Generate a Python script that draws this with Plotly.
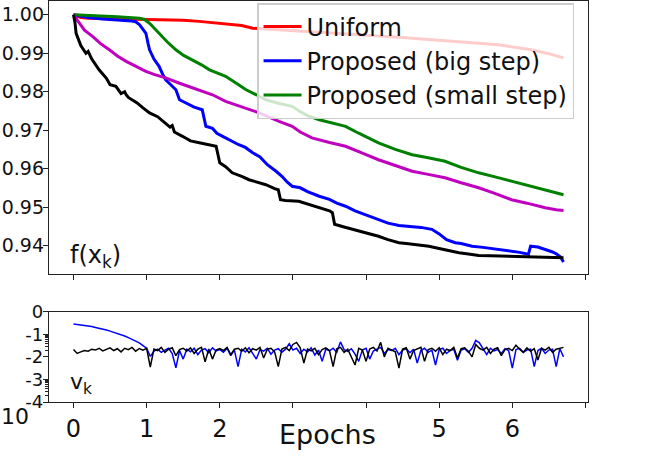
import plotly.graph_objects as go

# ---------------- top panel: f(x_k) ----------------
uniform_ep = [0, 0.1, 0.2, 0.5, 1.0, 1.5, 1.72, 2.0, 2.17, 2.3, 2.45, 2.7, 3.08, 3.5, 3.99, 4.5, 4.9, 5.4, 5.81, 6.26, 6.5, 6.7]
uniform_f = [1.0, 0.9993, 0.9991, 0.999, 0.9989, 0.9986, 0.9983, 0.9978, 0.9974, 0.9972, 0.9965, 0.9962, 0.9959, 0.9954, 0.9948, 0.9941, 0.9935, 0.9928, 0.9922, 0.9909, 0.9899, 0.9888]

big_ep = [0, 0.2, 0.4, 0.6, 0.8, 0.85, 0.9, 0.95, 0.99, 1.02, 1.04, 1.1, 1.17, 1.22, 1.26, 1.33, 1.40, 1.45, 1.55, 1.65, 1.76,
          1.81, 1.9, 1.96, 2.04, 2.15, 2.26, 2.35, 2.45, 2.55, 2.65, 2.77, 2.85, 2.92, 2.99, 3.1, 3.2, 3.36, 3.5, 3.6, 3.72,
          3.85, 4.0, 4.17, 4.3, 4.45, 4.63, 4.75, 4.9, 5.0, 5.1, 5.22, 5.3, 5.45, 5.6, 5.8, 5.99, 6.1, 6.22, 6.25, 6.35,
          6.45, 6.55, 6.61, 6.66, 6.7]
big_f = [1.0, 0.9993, 0.9989, 0.9987, 0.9984, 0.9982, 0.9975, 0.9962, 0.9952, 0.9925, 0.9909, 0.9885, 0.9866, 0.9845, 0.9831, 0.9818, 0.9805, 0.9779, 0.977, 0.976, 0.9753,
         0.971, 0.9705, 0.9692, 0.9684, 0.9672, 0.9662, 0.9655, 0.9641, 0.963, 0.961, 0.9593, 0.958, 0.9565, 0.9554, 0.955, 0.954, 0.9528, 0.952, 0.951, 0.9502,
         0.949, 0.948, 0.9468, 0.9458, 0.9452, 0.945, 0.9447, 0.9442, 0.943, 0.9415, 0.9407, 0.9405, 0.9398, 0.9395, 0.939, 0.9385, 0.9382, 0.9377, 0.9398, 0.9396,
         0.939, 0.9383, 0.9377, 0.937, 0.9357]

small_ep = [0, 0.3, 0.6, 0.9, 0.97, 1.04, 1.1, 1.17, 1.28, 1.4, 1.5, 1.63, 1.75, 1.86, 2.0, 2.08, 2.2, 2.36, 2.5, 2.63, 2.8,
            2.99, 3.1, 3.2, 3.36, 3.5, 3.72, 3.9, 4.05, 4.17, 4.4, 4.63, 4.85, 5.08, 5.3, 5.54, 5.75, 5.99, 6.2, 6.45, 6.6, 6.7]
small_f = [1.0, 0.9998, 0.9995, 0.9991, 0.9988, 0.9978, 0.9965, 0.9952, 0.993, 0.9909, 0.9895, 0.9883, 0.987, 0.9857, 0.9846, 0.984, 0.9825, 0.9805, 0.9792, 0.9779, 0.977,
           0.9762, 0.9748, 0.9738, 0.9727, 0.972, 0.971, 0.9692, 0.9678, 0.9667, 0.965, 0.9636, 0.9628, 0.9619, 0.9603, 0.9589, 0.9579, 0.9567, 0.9557, 0.9545, 0.9538, 0.9532]

magenta_ep = [0, 0.08, 0.15, 0.26, 0.37, 0.49, 0.6, 0.72, 0.85, 0.99, 1.1, 1.26, 1.45, 1.63, 1.78, 1.90, 2.08, 2.3, 2.54, 2.81,
              2.99, 3.1, 3.26, 3.5, 3.72, 3.95, 4.17, 4.4, 4.63, 4.85, 5.08, 5.3, 5.54, 5.75, 5.99, 6.2, 6.45, 6.6, 6.7]
magenta_f = [1.0, 0.9978, 0.996, 0.9944, 0.9925, 0.9909, 0.9893, 0.9879, 0.9866, 0.9853, 0.9845, 0.9836, 0.9822, 0.981, 0.98, 0.9792, 0.9775, 0.976, 0.9745, 0.9723,
             0.971, 0.9695, 0.968, 0.9668, 0.9658, 0.964, 0.9623, 0.9608, 0.9593, 0.9585, 0.9576, 0.9563, 0.955, 0.9536, 0.9519, 0.951, 0.9498, 0.9493, 0.9491]

black_ep = [0, 0.02, 0.036, 0.1, 0.17, 0.2, 0.25, 0.35, 0.45, 0.5, 0.58, 0.65, 0.7, 0.72, 0.75, 0.87, 0.95, 1.04, 1.15, 1.26,
            1.32, 1.35, 1.38, 1.49, 1.6, 1.72, 1.95, 2.0, 2.08, 2.17, 2.3, 2.4, 2.5, 2.63, 2.75, 2.8, 2.83, 2.9, 3.08, 3.2,
            3.31, 3.4, 3.5, 3.54, 3.57, 3.7, 3.8, 3.95, 4.05, 4.17, 4.3, 4.45, 4.55, 4.7, 4.86, 5.0, 5.1, 5.27, 5.4, 5.54,
            5.7, 5.99, 6.3, 6.5, 6.7]
black_f = [1.0, 0.998, 0.9952, 0.992, 0.990, 0.9905, 0.9885, 0.9857, 0.9835, 0.9818, 0.9814, 0.9795, 0.98, 0.9792, 0.9785, 0.9771, 0.9758, 0.9745, 0.9735, 0.9719,
           0.9708, 0.9712, 0.9695, 0.9684, 0.9672, 0.9667, 0.9658, 0.9615, 0.9605, 0.9589, 0.958, 0.9571, 0.9565, 0.9558, 0.9548, 0.9545, 0.9519, 0.9517, 0.9515, 0.9508,
           0.9502, 0.9495, 0.949, 0.9485, 0.9455, 0.9448, 0.9443, 0.9437, 0.9432, 0.9424, 0.9415, 0.9407, 0.9405, 0.9401, 0.9398, 0.9392, 0.9388, 0.9381, 0.9378, 0.9374,
           0.9373, 0.9372, 0.9371, 0.9369, 0.9368]

# ---------------- bottom panel: log10(v_k), sampled every 0.05 epoch ----------------
vk_blue_exp = [
    -0.54, -0.56, -0.58, -0.60, -0.63, -0.66, -0.70, -0.73, -0.77, -0.81,
    -0.86, -0.91, -0.96, -1.02, -1.08, -1.15, -1.22, -1.30, -1.38, -1.50,
    -1.62, -1.98, -1.75, -1.66, -1.80, -1.70, -1.62, -1.85, -2.49, -1.72,
    -2.10, -1.66, -1.78, -1.62, -1.90, -1.70, -1.64, -1.82, -1.60, -1.74,
    -1.68, -1.80, -1.62, -1.95, -1.70, -2.43, -1.66, -1.78, -1.60, -1.85,
    -2.10, -1.68, -1.75, -1.62, -1.88, -1.70, -1.64, -1.80, -1.66, -1.42,
    -1.70, -1.62, -1.85, -1.66, -1.78, -1.60, -1.92, -1.70, -2.20, -1.66,
    -1.74, -1.62, -1.80, -1.34, -1.68, -1.76, -1.64, -1.88, -2.20, -1.70,
    -1.62, -2.10, -1.74, -1.66, -1.58, -1.85, -1.68, -1.72, -1.62, -1.90,
    -1.70, -1.64, -1.82, -1.66, -2.28, -1.72, -1.62, -1.80, -1.70, -2.36,
    -1.68, -1.62, -1.85, -1.72, -1.66, -2.15, -1.70, -1.64, -1.80, -1.62,
    -1.27, -1.38, -1.66, -1.90, -1.62, -1.74, -1.68, -1.85, -1.64, -1.72,
    -2.50, -1.68, -1.62, -1.80, -1.70, -1.66, -2.43, -1.72, -1.62, -1.85,
    -1.70, -1.66, -2.43, -1.64, -2.00]
vk_black_exp = [
    -1.67, -1.85, -1.78, -1.72, -1.75, -1.66, -1.70, -1.62, -1.74, -1.66,
    -1.60, -1.72, -1.64, -1.78, -1.62, -1.68, -1.58, -1.75, -1.63, -1.70,
    -1.62, -2.45, -1.65, -1.72, -1.58, -1.80, -1.66, -1.60, -1.95, -1.68,
    -1.62, -1.74, -1.60, -1.85, -1.66, -1.58, -2.22, -1.65, -2.10, -1.70,
    -1.63, -1.72, -1.58, -1.90, -1.66, -1.62, -1.75, -1.60, -1.82, -1.64,
    -1.70, -1.58, -2.05, -1.66, -1.62, -1.78, -2.43, -1.65, -1.58, -1.72,
    -1.45, -1.36, -1.60, -2.28, -1.66, -1.74, -1.62, -1.90, -1.68, -1.60,
    -1.72, -2.43, -1.64, -1.58, -1.80, -1.66, -2.00, -2.36, -1.62, -1.70,
    -2.20, -1.65, -1.58, -1.74, -1.36, -2.00, -1.62, -1.70, -1.78, -2.50,
    -1.66, -1.60, -2.10, -1.72, -1.64, -1.58, -2.20, -1.68, -1.62, -1.75,
    -1.60, -1.90, -1.66, -1.72, -1.58, -2.05, -1.64, -1.60, -1.76, -2.00,
    -1.45, -1.62, -1.70, -1.58, -1.85, -1.66, -1.60, -1.95, -1.68, -1.62,
    -1.72, -1.48, -1.66, -1.80, -1.60, -1.75, -1.64, -2.14, -1.62, -1.70,
    -1.58, -1.80, -1.66, -1.62, -1.58]

f_ticks = [0.94, 0.95, 0.96, 0.97, 0.98, 0.99, 1.00]
f_ticklabels = ["0.94", "0.95", "0.96", "0.97", "0.98", "0.99", "1.00"]
ep_ticks = [0, 1, 2, 3, 4, 5, 6, 7]
ep_ticklabels = ["0", "1", "2", "", "", "5", "6", ""]
v_ticks = [1, 0.1, 0.01, 0.001, 0.0001]
v_ticklabels = ["0", "-1", "-2", "-3", "-4"]

STEP = 0.05
blue_ep = [round(i * STEP, 2) for i in range(len(vk_blue_exp))]
blk_ep = [round(i * STEP, 2) for i in range(len(vk_black_exp))]

FONT = "DejaVu Sans"
FRAME = "#222222"

fig = go.Figure()
lw = 3
fig.add_trace(go.Scatter(x=uniform_ep, y=uniform_f, mode="lines", name="Uniform",
                         line=dict(color="#ff0000", width=lw), xaxis="x", yaxis="y"))
fig.add_trace(go.Scatter(x=big_ep, y=big_f, mode="lines", name="Proposed (big step)",
                         line=dict(color="#0000ff", width=lw), xaxis="x", yaxis="y"))
fig.add_trace(go.Scatter(x=small_ep, y=small_f, mode="lines", name="Proposed (small step)",
                         line=dict(color="#008000", width=lw), xaxis="x", yaxis="y"))
fig.add_trace(go.Scatter(x=magenta_ep, y=magenta_f, mode="lines", showlegend=False,
                         line=dict(color="#bf00bf", width=lw), xaxis="x", yaxis="y"))
fig.add_trace(go.Scatter(x=black_ep, y=black_f, mode="lines", showlegend=False,
                         line=dict(color="#000000", width=lw), xaxis="x", yaxis="y"))

fig.add_trace(go.Scatter(x=blue_ep, y=[10 ** e for e in vk_blue_exp], mode="lines", showlegend=False,
                         line=dict(color="#0000ff", width=1.5), xaxis="x2", yaxis="y2"))
fig.add_trace(go.Scatter(x=blk_ep, y=[10 ** e for e in vk_black_exp], mode="lines", showlegend=False,
                         line=dict(color="#000000", width=1.5), xaxis="x2", yaxis="y2"))

xr = [-0.335, 7.035]
common_axis = dict(showline=True, mirror=True, linecolor=FRAME, linewidth=1.4, showgrid=False,
                   zeroline=False, ticks="outside", ticklen=5, tickcolor=FRAME, tickwidth=1.2,
                   automargin=False)

minor_vals = [k * 0.01 for k in range(2, 10)] + [k * 0.0001 for k in range(2, 10)]

fig.update_layout(
    width=658, height=460,
    margin=dict(l=49, r=70, t=1, b=58, autoexpand=False),
    paper_bgcolor="white", plot_bgcolor="white",
    font=dict(family=FONT, color="#111111"),
    xaxis=dict(domain=[0, 1], range=xr, anchor="y", tickvals=ep_ticks, showticklabels=False, **common_axis),
    yaxis=dict(domain=[0.3185, 1], range=[0.9325, 1.0036], tickvals=f_ticks, ticktext=f_ticklabels,
               tickfont=dict(size=19), ticklabelstandoff=-5, **common_axis),
    xaxis2=dict(domain=[0, 1], range=xr, anchor="y2", tickvals=ep_ticks, ticktext=ep_ticklabels,
                tickfont=dict(size=24), **common_axis),
    yaxis2=dict(domain=[0, 0.2252], type="log", range=[-4, 0], anchor="x2", tickvals=v_ticks,
                ticktext=v_ticklabels, tickfont=dict(size=18), ticklabelstandoff=-4,
                minor=dict(tickvals=minor_vals, ticks="outside", ticklen=3, tickcolor=FRAME, tickwidth=1),
                **common_axis),
    legend=dict(x=0.386, y=0.995, xanchor="left", yanchor="top",
                bgcolor="rgba(255,255,255,0.8)", bordercolor="#cccccc", borderwidth=1.5,
                font=dict(size=24, family=FONT, color="#111111"), tracegroupgap=0,
                itemwidth=38),
    showlegend=True,
)

fig.add_annotation(text="f(x<sub>k</sub>)", xref="paper", yref="paper", x=0.0353, y=0.3616,
                   xanchor="left", yanchor="middle", showarrow=False, font=dict(size=24, family=FONT))
fig.add_annotation(text="v<sub>k</sub>", xref="paper", yref="paper", x=0.0353, y=0.045,
                   xanchor="left", yanchor="middle", showarrow=False, font=dict(size=22, family=FONT))
fig.add_annotation(text="10", xref="paper", yref="paper", x=-0.063, y=-0.037,
                   xanchor="center", yanchor="middle", showarrow=False, font=dict(size=22, family=FONT))
fig.add_annotation(text="Epochs", xref="paper", yref="paper", x=0.5176, y=-0.08,
                   xanchor="center", yanchor="middle", showarrow=False, font=dict(size=27, family=FONT))

fig.write_html("out.html", config={"displayModeBar": False},
               post_script="document.body.style.margin='0px';")
